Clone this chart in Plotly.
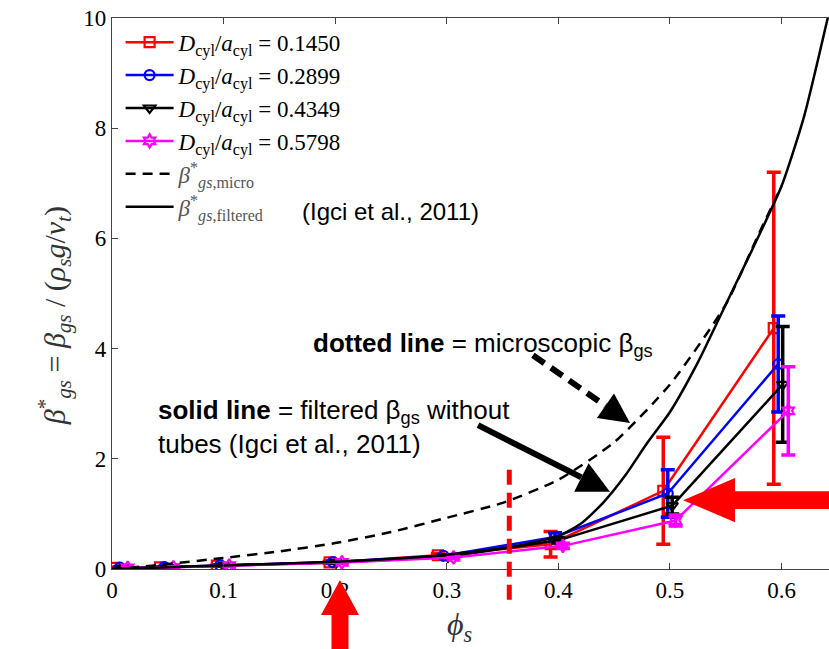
import math
import plotly.graph_objects as go

# ---------------------------------------------------------------------------
# Data
# ---------------------------------------------------------------------------
X_MAX = 0.6425
Y_MAX = 10.0

series_names = [
    "<i>D</i><sub>cyl</sub>/<i>a</i><sub>cyl</sub> = 0.1450",
    "<i>D</i><sub>cyl</sub>/<i>a</i><sub>cyl</sub> = 0.2899",
    "<i>D</i><sub>cyl</sub>/<i>a</i><sub>cyl</sub> = 0.4349",
    "<i>D</i><sub>cyl</sub>/<i>a</i><sub>cyl</sub> = 0.5798",
]

phi_red = [0.003, 0.043, 0.094, 0.195, 0.292, 0.393, 0.494, 0.593]
beta_red = [0.02, 0.03, 0.06, 0.12, 0.25, 0.45, 1.42, 4.37]
err_red = [0.01, 0.01, 0.01, 0.02, 0.03, 0.23, 0.97, 2.83]

phi_blue = [0.007, 0.047, 0.097, 0.198, 0.297, 0.397, 0.498, 0.597]
beta_blue = [0.025, 0.035, 0.065, 0.125, 0.24, 0.58, 1.37, 3.72]
err_blue = [0.01, 0.01, 0.01, 0.02, 0.02, 0.08, 0.43, 0.87]

phi_black = [0.010, 0.050, 0.100, 0.201, 0.301, 0.400, 0.502, 0.601]
beta_black = [0.02, 0.03, 0.06, 0.12, 0.22, 0.52, 1.15, 3.35]
err_black = [0.01, 0.01, 0.01, 0.01, 0.02, 0.05, 0.15, 1.05]

phi_mag = [0.014, 0.055, 0.105, 0.206, 0.306, 0.404, 0.505, 0.606]
beta_mag = [0.02, 0.03, 0.06, 0.12, 0.21, 0.42, 0.88, 2.87]
err_mag = [0.01, 0.01, 0.01, 0.01, 0.02, 0.04, 0.10, 0.80]

# Microscopic drag coefficient (dashed curve)
phi_micro = [0.0, 0.025, 0.05, 0.1, 0.15, 0.2, 0.25, 0.3, 0.35, 0.4, 0.45,
             0.5, 0.55, 0.58, 0.6]
beta_micro = [0.0, 0.04, 0.09, 0.2, 0.32, 0.47, 0.67, 0.93, 1.2, 1.62, 2.3,
              3.35, 4.8, 6.1, 6.95]

# Filtered drag coefficient without tubes (solid curve)
phi_filt = [0.0, 0.025, 0.05, 0.1, 0.15, 0.2, 0.25, 0.3, 0.35, 0.375, 0.4,
            0.42, 0.44, 0.46, 0.48, 0.5, 0.525, 0.55, 0.575, 0.6, 0.62, 0.6425]
beta_filt = [0.0, 0.015, 0.03, 0.065, 0.095, 0.13, 0.18, 0.26, 0.38, 0.47,
             0.6, 0.82, 1.2, 1.7, 2.3, 2.85, 3.75, 4.8, 5.85, 6.95, 8.2, 10.1]

x_ticks = [0, 0.1, 0.2, 0.3, 0.4, 0.5, 0.6]
x_tick_text = ["0", "0.1", "0.2", "0.3", "0.4", "0.5", "0.6"]
y_ticks = [0, 2, 4, 6, 8, 10]
y_tick_text = ["0", "2", "4", "6", "8", "10"]

# ---------------------------------------------------------------------------
# Figure geometry
# ---------------------------------------------------------------------------
FIG_W, FIG_H = 829, 649
M_L, M_R, M_T, M_B = 112, 0, 18, 80
PLOT_W = FIG_W - M_L - M_R
PLOT_H = FIG_H - M_T - M_B

SERIF = "Liberation Serif"
SANS = "Arial, Liberation Sans"


def px(v):
    """x data value -> paper fraction"""
    return v / X_MAX


def py(v):
    """y data value -> paper fraction"""
    return v / Y_MAX


fig = go.Figure()

series = [
    (phi_red, beta_red, err_red, "#ff0000", "square-open"),
    (phi_blue, beta_blue, err_blue, "#0000ff", "circle-open"),
    (phi_black, beta_black, err_black, "#000000", "triangle-down-open"),
    (phi_mag, beta_mag, err_mag, "#ff00ff", "hexagram-open"),
]

for name, (xs, ys, es, col, sym) in zip(series_names, series):
    fig.add_trace(go.Scatter(
        x=xs, y=ys, name=name, mode="lines+markers",
        line=dict(color=col, width=2.5),
        marker=dict(symbol=sym, size=10, color=col, line=dict(color=col, width=2.2)),
        error_y=dict(type="data", array=es, visible=True, color=col,
                     thickness=3.5, width=7),
    ))

fig.add_trace(go.Scatter(
    x=phi_micro, y=beta_micro, mode="lines",
    name='<span style="color:#555555"><i>β</i><sup>*</sup><sub><i>gs</i>,micro</sub></span>',
    line=dict(color="black", width=2.5, dash="10px,7px", shape="spline", smoothing=0.6),
))
fig.add_trace(go.Scatter(
    x=phi_filt, y=beta_filt, mode="lines",
    name='<span style="color:#555555"><i>β</i><sup>*</sup><sub><i>gs</i>,filtered</sub></span>',
    line=dict(color="black", width=2.5, shape="spline", smoothing=0.6),
))

# ---------------------------------------------------------------------------
# Arrows and marker lines (drawn in paper coordinates so they may leave the axes)
# ---------------------------------------------------------------------------
shapes = []


def to_px(x, y):
    return x / X_MAX * PLOT_W, y / Y_MAX * PLOT_H


def from_px(a, b):
    return a / PLOT_W, b / PLOT_H


def arrow_shapes(tail, tip, color, shaft_w, head_len, head_hw, dash=None,
                 shaft_hw=None):
    tx, ty = to_px(*tail)
    hx, hy = to_px(*tip)
    dx, dy = tx - hx, ty - hy
    n = math.hypot(dx, dy)
    ux, uy = dx / n, dy / n
    nx, ny = -uy, ux
    bx, by = hx + ux * head_len, hy + uy * head_len
    out = []
    if shaft_hw is None:
        a = from_px(bx, by)
        b = from_px(tx, ty)
        line = dict(color=color, width=shaft_w)
        if dash:
            line["dash"] = dash
        out.append(dict(type="line", xref="paper", yref="paper",
                        x0=b[0], y0=b[1], x1=a[0], y1=a[1], line=line))
        pts = [(hx, hy), (bx + nx * head_hw, by + ny * head_hw),
               (bx - nx * head_hw, by - ny * head_hw)]
    else:
        pts = [(hx, hy),
               (bx + nx * head_hw, by + ny * head_hw),
               (bx + nx * shaft_hw, by + ny * shaft_hw),
               (tx + nx * shaft_hw, ty + ny * shaft_hw),
               (tx - nx * shaft_hw, ty - ny * shaft_hw),
               (bx - nx * shaft_hw, by - ny * shaft_hw),
               (bx - nx * head_hw, by - ny * head_hw)]
    path = "M " + " L ".join("%.5f,%.5f" % from_px(p, q) for p, q in pts) + " Z"
    out.append(dict(type="path", xref="paper", yref="paper", path=path,
                    fillcolor=color, line=dict(width=0)))
    return out


# black arrows pointing to the two reference curves
shapes += arrow_shapes((0.3772, 3.88), (0.4642, 2.65), "black", 6, 30, 15,
                       dash="14px,8px")
shapes += arrow_shapes((0.328, 2.61), (0.4462, 1.40), "black", 6, 32, 16)

# red highlight arrows
shapes += arrow_shapes((0.2043, -1.5), (0.2043, -0.2), "#ff0000", 0, 35, 19,
                       shaft_hw=8.5)
shapes += arrow_shapes((0.66, 1.25), (0.5117, 1.25), "#ff0000", 0, 52, 22,
                       shaft_hw=9)

# red dashed vertical marker
shapes.append(dict(type="line", xref="paper", yref="paper",
                   x0=px(0.356), x1=px(0.356), y0=py(1.8), y1=py(-0.62),
                   line=dict(color="#ff0000", width=5, dash="15px,8px")))

annotations = [
    dict(text="<b>dotted line</b> = microscopic β<sub>gs</sub>",
         xref="paper", yref="paper", x=px(0.1783), y=py(4.07),
         xanchor="left", yanchor="middle", showarrow=False,
         font=dict(family=SANS, size=26, color="black")),
    dict(text="<b>solid line</b> = filtered β<sub>gs</sub> without<br>"
              "tubes (Igci et al., 2011)",
         xref="paper", yref="paper", x=px(0.0398), y=py(2.58),
         xanchor="left", yanchor="middle", align="left", showarrow=False,
         font=dict(family=SANS, size=26, color="black")),
    dict(text="(Igci et al., 2011)",
         xref="paper", yref="paper", x=px(0.1685), y=py(6.48),
         xanchor="left", yanchor="middle", showarrow=False,
         font=dict(family=SANS, size=24, color="black")),
    # axis titles
    dict(text="<i>ϕ<sub>s</sub></i>",
         xref="paper", yref="paper", x=0.485, y=-0.104,
         xanchor="center", yanchor="middle", showarrow=False,
         font=dict(family=SERIF, size=32, color="#333333")),
    dict(text="<i>β</i><sup>*</sup><sub><i>gs</i></sub> = "
              "<i>β<sub>gs</sub></i> / (<i>ρ<sub>s</sub>g</i>/<i>v<sub>t</sub></i>)",
         xref="paper", yref="paper", x=-0.08, y=0.46, textangle=-90,
         xanchor="center", yanchor="middle", showarrow=False,
         font=dict(family=SERIF, size=30, color="#333333")),
]

axis_common = dict(
    showgrid=False, zeroline=False, showline=True, linecolor="#444444",
    linewidth=1.2, ticks="inside", ticklen=6, tickwidth=1.2,
    tickcolor="#444444", tickfont=dict(family=SERIF, size=23, color="black"),
)

fig.update_layout(
    width=FIG_W, height=FIG_H,
    margin=dict(l=M_L, r=M_R, t=M_T, b=M_B, pad=0),
    paper_bgcolor="white", plot_bgcolor="white",
    showlegend=True,
    legend=dict(x=0.012, y=0.995, xanchor="left", yanchor="top",
                bgcolor="rgba(0,0,0,0)", borderwidth=0,
                font=dict(family=SERIF, size=23, color="black"),
                itemwidth=48, tracegroupgap=0),
    xaxis=dict(range=[0, X_MAX], tickvals=x_ticks, ticktext=x_tick_text,
               mirror="ticks", **axis_common),
    yaxis=dict(range=[0, Y_MAX], tickvals=y_ticks, ticktext=y_tick_text,
               mirror=False, **axis_common),
    shapes=shapes,
    annotations=annotations,
)

fig.write_html("out.html")
